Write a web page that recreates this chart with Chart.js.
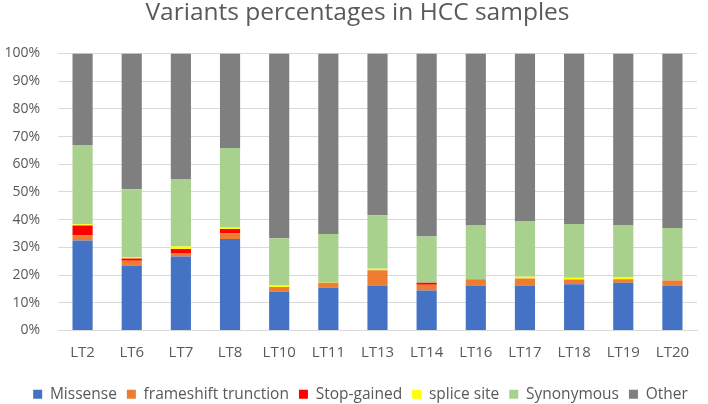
<!DOCTYPE html>
<html>
<head>
<meta charset="utf-8">
<script src="https://cdn.jsdelivr.net/npm/chart.js@4/dist/chart.umd.min.js"></script>
<style>
  html, body { margin: 0; padding: 0; background: #fff; }
  #wrap { width: 708px; height: 404px; }
</style>
</head>
<body>
<div id="wrap"><canvas id="myChart"></canvas></div>
<script>
// samples on the x axis
var samples = ['LT2', 'LT6', 'LT7', 'LT8', 'LT10', 'LT11', 'LT13', 'LT14', 'LT16', 'LT17', 'LT18', 'LT19', 'LT20'];

// percentages, one array per variant type
var missense    = [32.5, 23.5, 26.7, 33.0, 14.0, 15.4, 16.2, 14.4, 16.2, 16.2, 16.7, 17.2, 16.2];
var frameshift  = [1.8, 1.7, 1.3, 2.1, 1.7, 1.8, 5.5, 2.1, 2.3, 2.6, 1.7, 1.3, 1.8];
var stopGained  = [3.6, 0.8, 1.4, 1.5, 0, 0, 0, 0.7, 0, 0, 0, 0, 0];
var spliceSite  = [0.4, 0.5, 0.9, 0.6, 0.5, 0.1, 0.6, 0, 0, 0.6, 0.6, 0.6, 0];
var synonymous  = [28.5, 24.5, 24.4, 28.7, 17.1, 17.5, 19.3, 16.7, 19.4, 19.9, 19.4, 18.8, 19.0];
var other       = [33.2, 49.0, 45.3, 34.1, 66.7, 65.2, 58.4, 66.1, 62.1, 60.7, 61.6, 62.1, 63.0];

// y axis ticks
var yTicks = [0, 10, 20, 30, 40, 50, 60, 70, 80, 90, 100];

var fontName = "'Open Sans', sans-serif";
var grey = '#595959';

function bar(label, data, color) {
  return {
    label: label,
    data: data,
    backgroundColor: color,
    borderWidth: 0,
    barPercentage: 0.41,
    categoryPercentage: 1.0
  };
}

// the excel legend and title sit a bit right of the canvas centre
var nudgeBoxes = {
  id: 'nudgeBoxes',
  afterLayout: function (chart) {
    if (chart.legend) { chart.legend.left += 12; chart.legend.right += 12; }
    if (chart.titleBlock) { chart.titleBlock.left += 9; chart.titleBlock.right += 9; }
  }
};

var ctx = document.getElementById('myChart').getContext('2d');
var chart = new Chart(ctx, {
  type: 'bar',
  data: {
    labels: samples,
    datasets: [
      bar('Missense', missense, '#4472C4'),
      bar('frameshift trunction', frameshift, '#ED7D31'),
      bar('Stop-gained', stopGained, '#FF0000'),
      bar('splice site', spliceSite, '#FFFF00'),
      bar('Synonymous', synonymous, '#A9D18E'),
      bar('Other', other, '#7F7F7F')
    ]
  },
  plugins: [nudgeBoxes],
  options: {
    responsive: true,
    maintainAspectRatio: false,
    animation: false,
    layout: { padding: { left: 0, right: 11, top: 0, bottom: -8 } },
    plugins: {
      title: {
        display: true,
        text: 'Variants percentages in HCC samples',
        color: grey,
        font: { family: fontName, size: 24.5, weight: 'normal' },
        padding: { top: -2, bottom: 26 }
      },
      legend: {
        position: 'bottom',
        labels: {
          color: grey,
          font: { family: fontName, size: 15.5 },
          boxWidth: 9,
          boxHeight: 9,
          padding: 10
        }
      },
      tooltip: { enabled: false }
    },
    scales: {
      x: {
        stacked: true,
        grid: { display: false },
        border: { color: '#d9d9d9' },
        afterFit: function (scale) { scale.height = 46; },
        ticks: { color: grey, font: { family: fontName, size: 15 }, padding: 5 }
      },
      y: {
        stacked: true,
        min: 0,
        max: 100,
        afterBuildTicks: function (scale) {
          scale.ticks = yTicks.map(function (v) { return { value: v }; });
        },
        afterFit: function (scale) { scale.width = 58; },
        grid: { color: '#d9d9d9', drawTicks: false },
        border: { display: false },
        ticks: {
          color: grey,
          font: { family: fontName, size: 14 },
          padding: 18,
          callback: function (v) { return v + '%'; }
        }
      }
    }
  }
});
</script>
</body>
</html>
